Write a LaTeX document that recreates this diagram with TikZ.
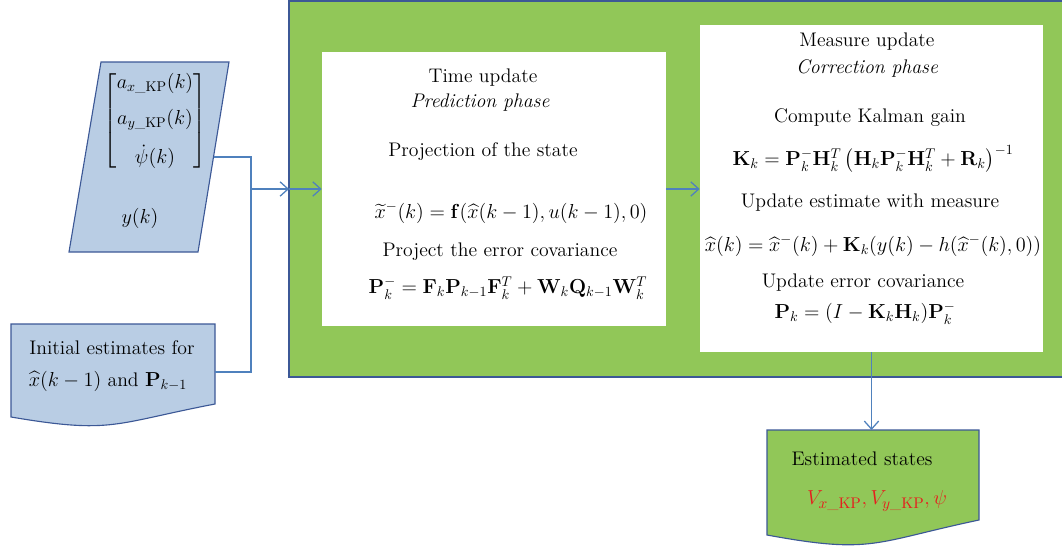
\documentclass[tikz,border=0pt]{standalone}
\usepackage{amsmath, amssymb}
\usepackage{tikz}
\usetikzlibrary{arrows.meta}
\usetikzlibrary{calc}
\usetikzlibrary{positioning}

\definecolor{kfgreen}{RGB}{145,199,88}
\definecolor{inblue}{RGB}{185,205,228}
\definecolor{edgeblue}{RGB}{60,88,150}
\definecolor{linkblue}{RGB}{79,129,189}
\definecolor{outred}{RGB}{230,30,30}

\tikzset{
	link/.style={draw=linkblue, line width=0.9pt, -{Straight Barb[length=2mm,width=3.6mm]}},
	wire/.style={draw=linkblue, line width=0.9pt},
	whitebox/.style={draw=none, fill=white, inner sep=0pt},
	lbl/.style={font=\fontsize{14}{17}\selectfont, inner sep=0pt},
}

\begin{document}
\begin{tikzpicture}
		[x=0.025cm, y=-0.025cm]
		\useasboundingbox (0,0) rectangle (1062,546);
		% outer filter block
		\fill[kfgreen] (289,1) rectangle (1070,377);
		\draw[edgeblue, line width=1pt] (1070,1) -- (289,1) -- (289,377) -- (1070,377);
		\coordinate (kfin) at (289,189);
		% the two phases
		\node[whitebox, minimum width=8.6cm, minimum height=6.85cm] (tu) at (494,189) {};
		\node[whitebox, minimum width=8.575cm, minimum height=8.175cm] (mu) at (871.5,188.5) {};
		% inputs
		\draw[edgeblue, fill=inblue, line width=0.8pt] (101,62) -- (229,62) -- (198,252) -- (69,252) -- cycle;
		\coordinate (meas) at (214,157);
		\node[lbl] (vec) at (155,121) {$\begin{bmatrix} a_{x\_\mathrm{KP}}(k)\\[9pt] a_{y\_\mathrm{KP}}(k)\\[9pt] \dot{\psi}(k)\end{bmatrix}$};
		\node[lbl] (yk) at (140,218) {$y(k)$};
		\draw[edgeblue, fill=inblue, line width=0.8pt] (11,324) -- (215,324) -- (215,404)
			.. controls (113,423.6) and (113,434.3) .. (11,417) -- cycle;
		\coordinate (init) at (215,372);
		\node[lbl] (init1) at (112,348) {Initial estimates for};
		\node[lbl] (init2) at (108,381) {$\widehat{x}(k-1)$ and $\mathbf{P}_{k-1}$};
		% output
		\draw[edgeblue, fill=kfgreen, line width=0.8pt] (767,430) -- (979,430) -- (979,520)
			.. controls (873,542.4) and (873,554.5) .. (767,535) -- cycle;
		\coordinate (est) at (871.5,430);
		\node[lbl] (est1) at (862,459) {Estimated states};
		\node[lbl, text=outred, font=\fontsize{15}{18}\selectfont] (est2) at (877,501) {$V_{x\_\mathrm{KP}}, V_{y\_\mathrm{KP}}, \psi$};
		% time update texts
		\node[lbl] (tu1) at (483,78) {Time update};
		\node[lbl] (tu2) at (480,103) {\itshape Prediction phase};
		\node[lbl] (tu3) at (483,152) {Projection of the state};
		\node[lbl] (tu4) at (511,213) {$\widetilde{x}^{-}(k) = \mathbf{f}(\widehat{x}(k-1), u(k-1), 0)$};
		\node[lbl] (tu5) at (500,252) {Project the error covariance};
		\node[lbl] (tu6) at (508,288) {$\mathbf{P}_k^{-} = \mathbf{F}_k\mathbf{P}_{k-1}\mathbf{F}_k^T + \mathbf{W}_k\mathbf{Q}_{k-1}\mathbf{W}_k^T$};
		% measure update texts
		\node[lbl] (mu1) at (867,42) {Measure update};
		\node[lbl] (mu2) at (867,68) {\itshape Correction phase};
		\node[lbl] (mu3) at (870,118) {Compute Kalman gain};
		\node[lbl] (mu4) at (873,159) {$\mathbf{K}_k = \mathbf{P}_k^{-}\mathbf{H}_k^T\left(\mathbf{H}_k\mathbf{P}_k^{-}\mathbf{H}_k^T+\mathbf{R}_k\right)^{-1}$};
		\node[lbl] (mu5) at (870,203) {Update estimate with measure};
		\node[lbl] (mu6) at (873,246) {$\widehat{x}(k) = \widehat{x}^{-}(k) + \mathbf{K}_k(y(k) - h(\widehat{x}^{-}(k),0))$};
		\node[lbl] (mu7) at (863,283) {Update error covariance};
		\node[lbl] (mu8) at (865,313) {$\mathbf{P}_k = (I - \mathbf{K}_k\mathbf{H}_k)\mathbf{P}_k^{-}$};
		% connectors
		\coordinate (junc) at (251,189);
		\draw[wire] (meas) -| (junc);
		\draw[wire] (init) -| (junc);
		\draw[link] (junc) -- (kfin);
		\draw[link] (kfin) -- (tu.west);
		\draw[link] (tu.east) -- (tu.east -| mu.west);
		\draw[link] (mu.south) -- (est);
	\end{tikzpicture}
\end{document}
